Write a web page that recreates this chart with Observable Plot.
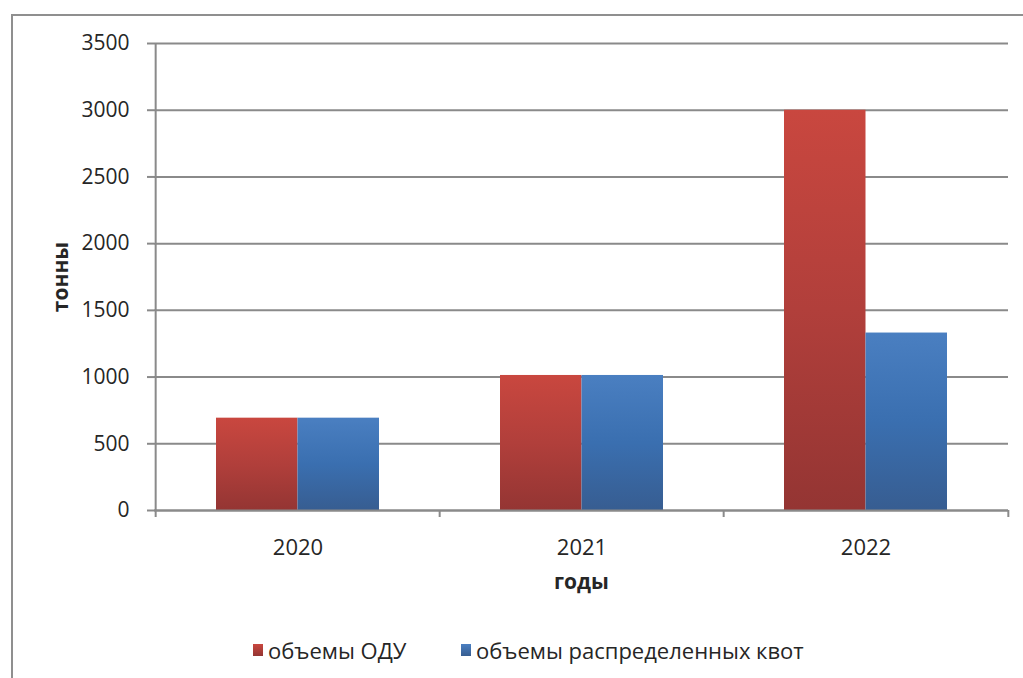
<!DOCTYPE html>
<html>
<head>
<meta charset="utf-8">
<script src="https://cdn.jsdelivr.net/npm/d3@7"></script>
<script src="https://cdn.jsdelivr.net/npm/@observablehq/plot@0.6"></script>
<style>
  body { margin: 0; background: #fff; }
  #wrap { position: relative; width: 1023px; height: 678px; overflow: hidden; background: #fff; font-family: "Open Sans", sans-serif; }
  #frame { position: absolute; left: 11px; top: 14px; width: 1100px; height: 800px; border: 2px solid #8f8f8f; box-sizing: border-box; }
  #chart { position: absolute; left: 0; top: 0; }
  #legend { position: absolute; top: 635px; left: 0; width: 1023px; height: 30px; font-size: 22px; color: #262626; }
  .item { position: absolute; top: 0; display: flex; align-items: center; height: 30px; }
  .sw { width: 10px; height: 12px; margin-right: 5px; }
</style>
</head>
<body>
<div id="wrap">
  <div id="frame"></div>
  <div id="chart"></div>
  <div id="legend"></div>
</div>
<script>
const years = ["2020", "2021", "2022"];
const seriesNames = ["объемы ОДУ", "объемы распределенных квот"];
const oduValues = [692, 1012, 3000];
const quotaValues = [692, 1012, 1330];
const yTicks = [0, 500, 1000, 1500, 2000, 2500, 3000, 3500];
const yTitle = "тонны";
const xTitle = "годы";

const oduData = years.map((y, i) => ({year: y, value: oduValues[i]}));
const quotaData = years.map((y, i) => ({year: y, value: quotaValues[i]}));

const W = 1023, H = 600;
const mL = 154, mR = 15, mT = 43, mB = 90;
const step = (W - mL - mR) / years.length;
const pInner = 1 - 163 / step;
const half = 163 / 2;
const gridColor = "#8a8a8a";
const textColor = "#262626";

const plot = Plot.plot({
  width: W,
  height: H,
  marginLeft: mL,
  marginRight: mR,
  marginTop: mT,
  marginBottom: mB,
  style: {fontFamily: "'Open Sans', sans-serif", fontSize: "21px", color: textColor, background: "transparent", overflow: "visible"},
  x: {domain: years, paddingInner: pInner, paddingOuter: pInner / 2, axis: null},
  y: {domain: [0, 3500], axis: null},
  marks: [
    Plot.ruleY(yTicks, {stroke: gridColor, strokeWidth: 2}),
    Plot.barY(oduData, {x: "year", y: "value", fill: "url(#gRed)", insetRight: half}),
    Plot.barY(quotaData, {x: "year", y: "value", fill: "url(#gBlue)", insetLeft: half}),
    Plot.ruleY([0], {stroke: gridColor, strokeWidth: 2}),
    Plot.axisY({ticks: yTicks, tickSize: 7, tickPadding: 18, tickFormat: d => String(d), fontSize: 21, stroke: gridColor, strokeWidth: 2, label: null}),
    Plot.axisX({tickSize: 0, tickPadding: 29, fontSize: 22, label: null}),
    Plot.axisX({tickSize: 7, tickFormat: () => "", dx: -step / 2, stroke: gridColor, strokeWidth: 2, label: null}),
    Plot.axisX({ticks: [years[years.length - 1]], tickSize: 7, tickFormat: () => "", dx: step / 2, stroke: gridColor, strokeWidth: 2, label: null}),
    Plot.ruleX([years[0]], {x: d => d, dx: -step / 2, stroke: gridColor, strokeWidth: 2}),
    Plot.text([yTitle], {frameAnchor: "left", textAnchor: "middle", dx: -93, rotate: -90, fontSize: 21, fontWeight: "bold", fill: textColor}),
    Plot.text([xTitle], {frameAnchor: "bottom", textAnchor: "middle", dy: 78, fontSize: 21, fontWeight: "bold", fill: textColor})
  ]
});

// gradients
const ns = "http://www.w3.org/2000/svg";
const defs = document.createElementNS(ns, "defs");
function grad(id, stops) {
  const g = document.createElementNS(ns, "linearGradient");
  g.setAttribute("id", id);
  g.setAttribute("x1", "0"); g.setAttribute("y1", "0");
  g.setAttribute("x2", "0"); g.setAttribute("y2", "1");
  for (const [o, c] of stops) {
    const s = document.createElementNS(ns, "stop");
    s.setAttribute("offset", o);
    s.setAttribute("stop-color", c);
    g.appendChild(s);
  }
  defs.appendChild(g);
}
grad("gRed", [[0, "#c9473f"], [0.5, "#b13f3b"], [1, "#943533"]]);
grad("gBlue", [[0, "#4a7fc1"], [0.5, "#3a6fb0"], [1, "#375d91"]]);
plot.insertBefore(defs, plot.firstChild);
document.getElementById("chart").appendChild(plot);

// legend
const legend = document.getElementById("legend");
const legendItems = [
  {name: seriesNames[0], left: 253, bg: "linear-gradient(#c9473f, #943533)"},
  {name: seriesNames[1], left: 461, bg: "linear-gradient(#4a7fc1, #375d91)"}
];
for (const it of legendItems) {
  const d = document.createElement("div");
  d.className = "item";
  d.style.left = it.left + "px";
  const sw = document.createElement("div");
  sw.className = "sw";
  sw.style.background = it.bg;
  const t = document.createElement("span");
  t.textContent = it.name;
  d.appendChild(sw); d.appendChild(t);
  legend.appendChild(d);
}
</script>
</body>
</html>
